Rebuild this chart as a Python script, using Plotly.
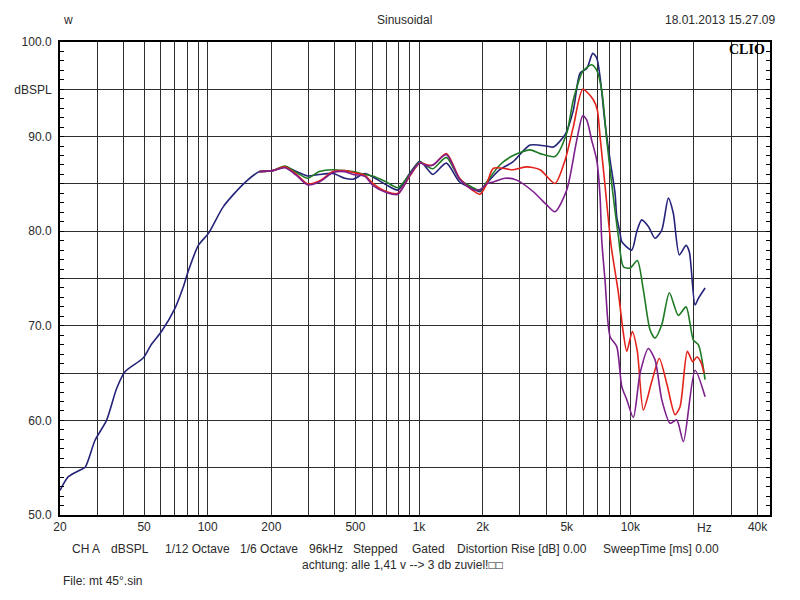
import math
import plotly.graph_objects as go

# ---------------- data ----------------
navy_f = [20, 21.9, 24.9, 26.3, 29.3, 33.2, 37.1, 40.6, 49.5, 54, 60.4, 70, 76.6, 80.7, 90.3,
          101, 118.6, 148.6, 176, 203, 232, 263, 297, 337, 392, 445, 488, 554, 608, 700, 795,
          903, 1008, 1102, 1165, 1347, 1556, 1800, 1945, 2090, 2410, 2790, 3350, 4010, 4320,
          4910, 5375, 5780, 6220, 6640, 6935, 7190, 7590, 8020, 8465, 8625, 8940, 9105, 10150,
          10720, 11320, 12170, 13090, 14080, 15130, 15970, 17060, 18350, 19020, 20240, 20980, 22580]
navy_db = [52.6, 54.05, 54.76, 55.04, 57.9, 60.0, 63.4, 65.15, 66.6, 68.0, 69.4, 71.85, 74.1, 75.7, 78.5,
           79.8, 82.6, 85.06, 86.3, 86.4, 86.8, 86.3, 85.84, 86.0, 86.1, 85.6, 85.5, 86.1, 85.7, 84.9, 84.35,
           86.1, 87.4, 86.5, 86.0, 87.2, 85.2, 84.5, 84.17, 85.05, 86.5, 87.35, 89.1, 89.0, 88.9,
           90.2, 92.8, 96.7, 97.2, 98.8, 98.3, 96.3, 91.4, 87.5, 84.0, 81.5, 79.8, 78.9, 78.0,
           79.95, 81.2, 80.5, 79.25, 80.1, 83.5, 81.9, 77.5, 78.5, 77.8, 72.2, 72.9, 74.0]

green_f = [176, 203, 232, 263, 297, 337, 392, 445, 488, 554, 608, 700, 795, 903, 1008, 1102, 1165,
           1347, 1556, 1800, 1945, 2090, 2410, 2790, 3350, 3740, 4400, 5000, 5375, 5955, 6565,
           6935, 7320, 7735, 8165, 8775, 9270, 9970, 10790, 11520, 12400, 13090, 14080, 15300,
           16870, 18350, 19870, 20980, 22580]
green_db = [86.3, 86.4, 86.9, 86.2, 85.6, 86.3, 86.5, 86.4, 86.3, 86.0, 85.8, 85.2, 84.6, 86.0, 87.3, 86.8, 86.6,
            87.8, 85.5, 84.6, 84.3, 85.2, 87.0, 88.0, 88.6, 88.2, 87.9, 90.35, 93.9, 96.9, 97.6,
            97.0, 94.9, 89.6, 85.0, 79.5, 76.25, 76.1, 76.9, 73.8, 69.55, 68.7, 70.1, 73.5,
            71.1, 72.0, 68.5, 68.0, 64.3]

red_f = [176, 203, 232, 263, 297, 337, 392, 445, 488, 554, 608, 700, 795, 903, 1008, 1102, 1165,
         1347, 1556, 1800, 1945, 2090, 2250, 2790, 3235, 3740, 4400, 4910, 5375, 5955, 6680,
         6980, 7190, 7590, 8020, 8165, 8775, 9270, 9615, 10220, 10790, 11520, 12630, 13710,
         14870, 16270, 17190, 18610, 19740, 20620, 21540, 22320]
red_db = [86.3, 86.4, 86.8, 86.0, 85.0, 85.3, 86.3, 86.4, 86.2, 85.9, 85.0, 84.2, 84.0, 85.8, 87.2, 87.0, 87.0,
          88.2, 85.6, 84.3, 83.9, 85.0, 86.65, 86.5, 86.8, 86.5, 85.05, 87.5, 91.05, 95.0, 93.9,
          92.8, 90.0, 84.8, 79.4, 78.0, 73.5, 69.2, 67.3, 69.4, 67.3, 61.1, 64.1, 66.55,
          63.9, 60.6, 61.45, 67.3, 66.2, 66.7, 66.2, 65.0]

purple_f = [176, 203, 232, 263, 297, 337, 392, 445, 488, 554, 608, 700, 795, 903, 1008, 1102, 1165,
            1347, 1556, 1800, 1945, 2090, 2250, 2550, 2900, 3475, 4010, 4400, 5000, 5575, 5955,
            6220, 6565, 6935, 7190, 7320, 7590, 8020, 8625, 9105, 9615, 10330, 11120, 12170,
            13090, 14080, 15420, 16580, 17820, 20240, 22580]
purple_db = [86.3, 86.4, 86.7, 85.9, 84.9, 85.2, 86.2, 86.3, 86.0, 85.8, 84.8, 84.1, 83.9, 85.9, 87.2, 86.9, 87.0,
             88.1, 85.5, 84.4, 84.4, 85.0, 85.2, 85.6, 85.4, 84.17, 82.8, 82.06, 84.35, 89.6, 92.2,
             91.75, 89.6, 87.5, 83.65, 79.1, 74.8, 68.85, 67.8, 63.6, 62.2, 60.3, 65.0, 67.6,
             66.4, 62.2, 59.7, 60.05, 57.75, 65.3, 62.5]

x_grid = [20, 30, 40, 50, 60, 70, 80, 90, 100, 200, 300, 400, 500, 600, 700, 800, 900,
          1000, 2000, 3000, 4000, 5000, 6000, 7000, 8000, 9000, 10000, 20000, 30000, 40000]
x_labels = {20: "20", 50: "50", 100: "100", 200: "200", 500: "500", 1000: "1k",
            2000: "2k", 5000: "5k", 10000: "10k", 40000: "40k"}
y_grid = [50, 55, 60, 65, 70, 75, 80, 85, 90, 95, 100]
y_labels = {50: "50.0", 60: "60.0", 70: "70.0", 80: "80.0", 90: "90.0", 95: "dBSPL", 100: "100.0"}

header_left = "w"
header_mid = "Sinusoidal"
header_right = "18.01.2013 15.27.09"
footer_items = ["CH A", "dBSPL", "1/12 Octave", "1/6 Octave", "96kHz", "Stepped", "Gated",
                "Distortion Rise [dB] 0.00", "SweepTime [ms] 0.00"]
footer_note = "achtung: alle 1,41 v --&gt; 3 db zuviel!\u25a1\u25a1"
file_text = "File: mt 45°.sin"

# ---------------- figure ----------------
series = [(navy_f, navy_db, "#25237a"), (green_f, green_db, "#1f7a24"),
          (red_f, red_db, "#e3231b"), (purple_f, purple_db, "#7d1f8c")]

fig = go.Figure()
for f, db, col in series:
    fig.add_trace(go.Scatter(x=f, y=db, mode="lines", hoverinfo="skip",
                             line=dict(color=col, width=1.6, shape="spline", smoothing=0.7)))

# carriers for the 1 dB inside tick marks on the left and right frame edges
for ax in ("y2", "y3"):
    fig.add_trace(go.Scatter(x=[20], y=[50], yaxis=ax, mode="lines", hoverinfo="skip",
                             line=dict(width=0), showlegend=False))

L, R, T, B = 60, 770, 42, 515
W, H = 800, 600

def px(x):
    return (x - L) / (R - L)

def py(y):
    return (B - y) / (B - T)

font = dict(family="Liberation Sans, Arial, sans-serif", size=12, color="#2a2a2a")

tick_axis = dict(range=[50, 100], overlaying="y", tickmode="linear", tick0=50, dtick=1,
                 ticks="inside", ticklen=4, tickwidth=1, tickcolor="black",
                 showticklabels=False, showgrid=False, zeroline=False, showline=False)

fig.update_layout(
    width=W, height=H,
    margin=dict(l=L, r=W - R, t=T, b=H - B),
    paper_bgcolor="white", plot_bgcolor="white",
    showlegend=False, font=font,
    xaxis=dict(type="log", range=[math.log10(20), math.log10(45800)],
               tickmode="array", tickvals=x_grid,
               ticktext=[x_labels.get(v, "") for v in x_grid],
               showgrid=True, gridcolor="#2e2e2e", gridwidth=1,
               showline=True, linecolor="black", linewidth=2, mirror=True,
               ticks="", zeroline=False, tickfont=font),
    yaxis=dict(range=[50, 100], tickmode="array", tickvals=y_grid,
               ticktext=[y_labels.get(v, "") for v in y_grid],
               showgrid=True, gridcolor="#2e2e2e", gridwidth=1,
               showline=True, linecolor="black", linewidth=2, mirror=True,
               ticks="", zeroline=False, tickfont=font, ticklabelstandoff=4),
    yaxis2=dict(side="left", **tick_axis),
    yaxis3=dict(side="right", **tick_axis),
)

ann = []
ann.append(dict(text=header_left, x=px(61), y=py(20), xanchor="left", yanchor="middle"))
ann.append(dict(text=header_mid, x=px(404), y=py(20), xanchor="center", yanchor="middle"))
ann.append(dict(text=header_right, x=px(777), y=py(20), xanchor="right", yanchor="middle"))
ann.append(dict(text="Hz", x=px(704), y=py(528), xanchor="center", yanchor="middle"))
footer_x = [70, 109, 163, 238, 307, 351, 410, 455, 601]
for t, xx in zip(footer_items, footer_x):
    ann.append(dict(text=t, x=px(xx), y=py(549), xanchor="left", yanchor="middle"))
ann.append(dict(text=footer_note, x=px(402), y=py(565), xanchor="center", yanchor="middle"))
ann.append(dict(text=file_text, x=px(61), y=py(581), xanchor="left", yanchor="middle"))
ann.append(dict(text="<b>CLIO</b>", x=px(767), y=py(50), xanchor="right", yanchor="middle",
                font=dict(family="Liberation Serif, Times New Roman, serif", size=14, color="black")))

for a in ann:
    a.setdefault("font", font)
    a.update(xref="paper", yref="paper", showarrow=False)
fig.update_layout(annotations=ann)

fig.write_html("out.html")
